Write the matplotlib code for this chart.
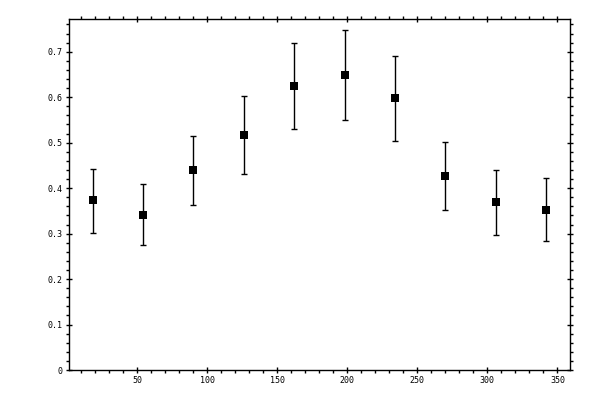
import matplotlib
matplotlib.use("Agg")
from matplotlib import pyplot as plt
from matplotlib.ticker import MultipleLocator

# data
angles = [18, 54, 90, 126, 162, 198, 234, 270, 306, 342]
values = [0.373, 0.342, 0.439, 0.516, 0.624, 0.648, 0.598, 0.426, 0.369, 0.351]
upper = [0.443, 0.408, 0.514, 0.602, 0.719, 0.748, 0.691, 0.501, 0.439, 0.422]
lower = [0.301, 0.274, 0.362, 0.431, 0.530, 0.550, 0.503, 0.351, 0.298, 0.283]

err_lo = [v - l for v, l in zip(values, lower)]
err_hi = [u - v for v, u in zip(values, upper)]

fig = plt.figure(figsize=(6, 4), dpi=100)
ax = fig.add_axes([0.115, 0.075, 0.835, 0.8775])

ax.errorbar(angles, values, yerr=[err_lo, err_hi], fmt="none", ecolor="black",
            elinewidth=1, capsize=2, capthick=1)
ax.plot(angles, values, "s", color="black", markersize=5.2, markeredgewidth=0)

ax.set_xlim(1.2, 359)
ax.set_ylim(0, 0.772)

ax.xaxis.set_minor_locator(MultipleLocator(10))
ax.yaxis.set_minor_locator(MultipleLocator(0.02))

ax.set_xticks([50, 100, 150, 200, 250, 300, 350])
ax.set_yticks([0, 0.1, 0.2, 0.3, 0.4, 0.5, 0.6, 0.7])
ax.set_yticklabels(["0", "0.1", "0.2", "0.3", "0.4", "0.5", "0.6", "0.7"])

ax.tick_params(which="major", direction="inout", length=5, width=1,
               top=True, right=True, labelsize=6, pad=2)
ax.tick_params(which="minor", direction="out", length=2.2, width=1,
               top=True, right=True)
for lab in ax.get_xticklabels() + ax.get_yticklabels():
    lab.set_family("DejaVu Sans Mono")

for s in ax.spines.values():
    s.set_linewidth(1)

plt.savefig("out.png", dpi=100)
